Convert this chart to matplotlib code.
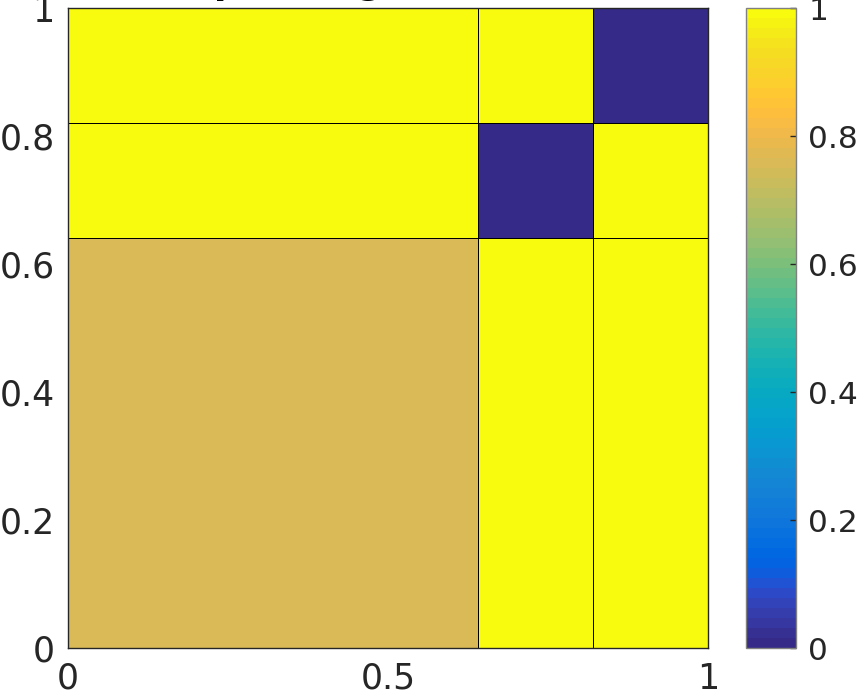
import numpy as np
import matplotlib
matplotlib.use("Agg")
import matplotlib.pyplot as plt
from matplotlib.colors import ListedColormap

# MATLAB parula (64 entries)
parula_data = [
    [0.2081, 0.1663, 0.5292], [0.2116, 0.1898, 0.5777], [0.2123, 0.2138, 0.6270], [0.2081, 0.2386, 0.6771],
    [0.1959, 0.2645, 0.7279], [0.1707, 0.2919, 0.7792], [0.1253, 0.3242, 0.8303], [0.0591, 0.3598, 0.8683],
    [0.0117, 0.3875, 0.8820], [0.0060, 0.4086, 0.8828], [0.0165, 0.4266, 0.8786], [0.0329, 0.4430, 0.8720],
    [0.0498, 0.4586, 0.8641], [0.0629, 0.4737, 0.8554], [0.0723, 0.4887, 0.8467], [0.0779, 0.5040, 0.8384],
    [0.0793, 0.5200, 0.8312], [0.0749, 0.5375, 0.8263], [0.0641, 0.5570, 0.8240], [0.0488, 0.5772, 0.8228],
    [0.0343, 0.5966, 0.8199], [0.0265, 0.6137, 0.8135], [0.0239, 0.6287, 0.8038], [0.0231, 0.6418, 0.7913],
    [0.0228, 0.6535, 0.7768], [0.0267, 0.6642, 0.7607], [0.0384, 0.6743, 0.7436], [0.0590, 0.6838, 0.7254],
    [0.0843, 0.6928, 0.7062], [0.1133, 0.7015, 0.6859], [0.1453, 0.7098, 0.6646], [0.1801, 0.7177, 0.6424],
    [0.2178, 0.7250, 0.6193], [0.2586, 0.7317, 0.5954], [0.3022, 0.7376, 0.5712], [0.3482, 0.7424, 0.5473],
    [0.3953, 0.7459, 0.5244], [0.4420, 0.7481, 0.5033], [0.4871, 0.7491, 0.4840], [0.5300, 0.7491, 0.4661],
    [0.5709, 0.7485, 0.4494], [0.6099, 0.7473, 0.4337], [0.6473, 0.7456, 0.4188], [0.6834, 0.7435, 0.4044],
    [0.7184, 0.7411, 0.3905], [0.7525, 0.7384, 0.3768], [0.7858, 0.7356, 0.3633], [0.8185, 0.7327, 0.3498],
    [0.8507, 0.7299, 0.3360], [0.8824, 0.7274, 0.3217], [0.9139, 0.7258, 0.3063], [0.9450, 0.7261, 0.2886],
    [0.9739, 0.7314, 0.2666], [0.9938, 0.7455, 0.2403], [0.9990, 0.7653, 0.2164], [0.9955, 0.7861, 0.1967],
    [0.9880, 0.8066, 0.1794], [0.9789, 0.8271, 0.1633], [0.9697, 0.8481, 0.1475], [0.9626, 0.8705, 0.1309],
    [0.9589, 0.8949, 0.1132], [0.9598, 0.9218, 0.0948], [0.9661, 0.9514, 0.0755], [0.9763, 0.9831, 0.0538],
]
parula = ListedColormap(parula_data, name="parula")

# data
x_edges = [0, 0.64, 0.82, 1]
y_edges = [0, 0.64, 0.82, 1]
cell_values = [
    [0.76, 1, 1],   # bottom row
    [1, 0, 1],
    [1, 1, 0],      # top row
]
y_ticks = [0, 0.2, 0.4, 0.6, 0.8, 1]
y_ticklabels = ["0", "0.2", "0.4", "0.6", "0.8", "1"]
x_ticks = [0, 0.5, 1]
x_ticklabels = ["0", "0.5", "1"]
cbar_ticks = [0, 0.2, 0.4, 0.6, 0.8, 1]
cbar_ticklabels = ["0", "0.2", "0.4", "0.6", "0.8", "1"]

plt.rcParams['font.family'] = ['DejaVu Sans']
txt = '#262626'

fig = plt.figure(figsize=(8.57, 6.96), dpi=100)
ax = fig.add_axes([68 / 857, 48 / 696, 640 / 857, 640 / 696])
cax = fig.add_axes([746 / 857, 48 / 696, 50 / 857, 640 / 696])

mesh = ax.pcolormesh(x_edges, y_edges, np.array(cell_values), cmap=parula, vmin=0, vmax=1,
                     edgecolors='k', linewidth=0.6)
ax.set_xlim(0, 1)
ax.set_ylim(0, 1)
ax.set_xticks(x_ticks)
ax.set_xticklabels(x_ticklabels)
ax.set_yticks(y_ticks)
ax.set_yticklabels(y_ticklabels)
ax.tick_params(direction='in', length=0, labelsize=25, colors=txt)
ax.tick_params(axis='y', pad=9.5)
ax.tick_params(axis='x', pad=10)
for s in ax.spines.values():
    s.set_color(txt)
    s.set_linewidth(1.0)

cb = fig.colorbar(mesh, cax=cax)
cb.set_ticks(cbar_ticks)
cb.set_ticklabels(cbar_ticklabels)
cb.ax.tick_params(direction='in', length=4, width=1, labelsize=22.5, colors=txt, pad=9)
cb.outline.set_edgecolor('#808080')
cb.outline.set_linewidth(1.0)

# title is cut off at the top edge in the reference; only descenders show
fig.text(388 / 857, 1.0 + 6 / 696, "Interpolating result matrix", ha='center', va='baseline',
         fontsize=26, fontweight='bold', color='k')

plt.savefig("out.png", dpi=100)
